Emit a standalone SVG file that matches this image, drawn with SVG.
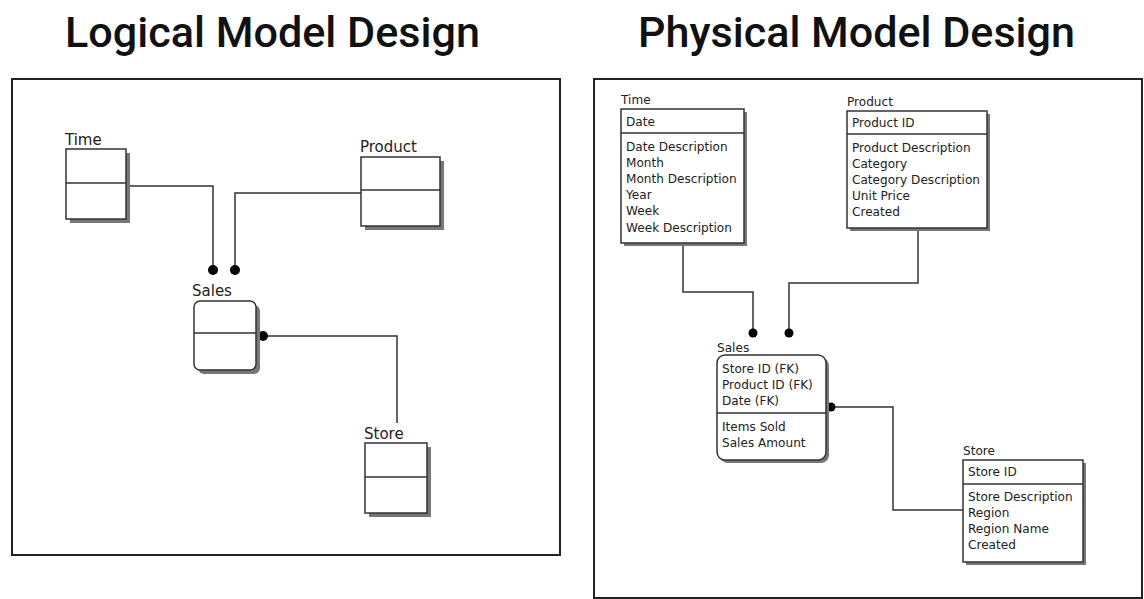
<svg xmlns="http://www.w3.org/2000/svg" width="1144" height="599" viewBox="0 0 1144 599">
  <style>
    .title { font-family: Roboto, "Liberation Sans", sans-serif; font-size: 42px; font-weight: 500; fill: #111; }
    .frame { fill: #fff; stroke: #222; stroke-width: 2; }
    .box { fill: #fff; stroke: #333; stroke-width: 1.5; }
    .shadow { fill: #777; }
    .div { stroke: #333; stroke-width: 1.5; }
    .lbl { font-family: "DejaVu Sans", sans-serif; font-size: 15px; fill: #222; }
    .sm { font-family: "DejaVu Sans", sans-serif; font-size: 12.1px; fill: #222; }
    .conn { fill: none; stroke: #333; stroke-width: 1.5; }
    .dot { fill: #000; }
  </style>
  <rect width="1144" height="599" fill="#fff"/>

  <text class="title" x="65" y="47" textLength="415" lengthAdjust="spacingAndGlyphs">Logical Model Design</text>
  <text class="title" x="638" y="47" textLength="437" lengthAdjust="spacingAndGlyphs">Physical Model Design</text>

  <rect class="frame" x="12" y="79" width="548" height="476"/>
  <rect class="frame" x="594" y="79" width="548" height="519"/>

  <!-- Logical model connectors -->
  <g id="logical-connectors">
    <path class="conn" d="M126,186 H213 V270"/>
    <path class="conn" d="M361,193 H235 V270"/>
    <path class="conn" d="M263,336 H397 V423"/>
    <circle class="dot" cx="213" cy="270" r="5"/>
    <circle class="dot" cx="235" cy="270" r="5"/>
    <circle class="dot" cx="263" cy="336" r="5"/>
  </g>

  <!-- Logical model entities -->
  <g id="l-time">
    <text class="lbl" x="65" y="145">Time</text>
    <rect class="shadow" x="70" y="153" width="60" height="70"/>
    <rect class="box" x="66" y="149" width="60" height="70"/>
    <line class="div" x1="66" y1="183" x2="126" y2="183"/>
  </g>
  <g id="l-product">
    <text class="lbl" x="360" y="152">Product</text>
    <rect class="shadow" x="365" y="161" width="79" height="69"/>
    <rect class="box" x="361" y="157" width="79" height="69"/>
    <line class="div" x1="361" y1="190" x2="440" y2="190"/>
  </g>
  <g id="l-sales">
    <text class="lbl" x="192" y="296">Sales</text>
    <rect class="shadow" x="198" y="305" width="62" height="69" rx="6"/>
    <rect class="box" x="194" y="301" width="62" height="69" rx="6"/>
    <line class="div" x1="194" y1="333" x2="256" y2="333"/>
  </g>
  <g id="l-store">
    <text class="lbl" x="364" y="439">Store</text>
    <rect class="shadow" x="369" y="447" width="62" height="70"/>
    <rect class="box" x="365" y="443" width="62" height="70"/>
    <line class="div" x1="365" y1="477" x2="427" y2="477"/>
  </g>

  <!-- Physical model connectors -->
  <g id="physical-connectors">
    <path class="conn" d="M683,243 V292 H753 V333"/>
    <path class="conn" d="M918,228 V283 H789 V333"/>
    <path class="conn" d="M831,407 H893 V510 H963"/>
    <circle class="dot" cx="753" cy="333" r="4.5"/>
    <circle class="dot" cx="789" cy="333" r="4.5"/>
    <circle class="dot" cx="831" cy="407" r="4.5"/>
  </g>

  <!-- Physical model entities -->
  <g id="p-time">
    <text class="sm" x="621" y="104">Time</text>
    <rect class="shadow" x="624" y="112" width="123" height="134"/>
    <rect class="box" x="621" y="109" width="123" height="134"/>
    <line class="div" x1="621" y1="133" x2="744" y2="133"/>
    <text class="sm" x="626" y="126">Date</text>
    <text class="sm" x="626" y="151">Date Description</text>
    <text class="sm" x="626" y="167">Month</text>
    <text class="sm" x="626" y="183">Month Description</text>
    <text class="sm" x="626" y="199">Year</text>
    <text class="sm" x="626" y="215">Week</text>
    <text class="sm" x="626" y="232">Week Description</text>
  </g>
  <g id="p-product">
    <text class="sm" x="847" y="106">Product</text>
    <rect class="shadow" x="850" y="114" width="140" height="117"/>
    <rect class="box" x="847" y="111" width="140" height="117"/>
    <line class="div" x1="847" y1="134" x2="987" y2="134"/>
    <text class="sm" x="852" y="127">Product ID</text>
    <text class="sm" x="852" y="152">Product Description</text>
    <text class="sm" x="852" y="168">Category</text>
    <text class="sm" x="852" y="184">Category Description</text>
    <text class="sm" x="852" y="200">Unit Price</text>
    <text class="sm" x="852" y="216">Created</text>
  </g>
  <g id="p-sales">
    <text class="sm" x="717" y="352">Sales</text>
    <rect class="shadow" x="720" y="358" width="109" height="105" rx="8"/>
    <rect class="box" x="717" y="355" width="109" height="105" rx="8"/>
    <line class="div" x1="717" y1="413" x2="826" y2="413"/>
    <text class="sm" x="722" y="373">Store ID (FK)</text>
    <text class="sm" x="722" y="389">Product ID (FK)</text>
    <text class="sm" x="722" y="405">Date (FK)</text>
    <text class="sm" x="722" y="431">Items Sold</text>
    <text class="sm" x="722" y="447">Sales Amount</text>
  </g>
  <g id="p-store">
    <text class="sm" x="963" y="455">Store</text>
    <rect class="shadow" x="966" y="463" width="120" height="102"/>
    <rect class="box" x="963" y="460" width="120" height="102"/>
    <line class="div" x1="963" y1="484" x2="1083" y2="484"/>
    <text class="sm" x="968" y="476">Store ID</text>
    <text class="sm" x="968" y="501">Store Description</text>
    <text class="sm" x="968" y="517">Region</text>
    <text class="sm" x="968" y="533">Region Name</text>
    <text class="sm" x="968" y="549">Created</text>
  </g>
</svg>
